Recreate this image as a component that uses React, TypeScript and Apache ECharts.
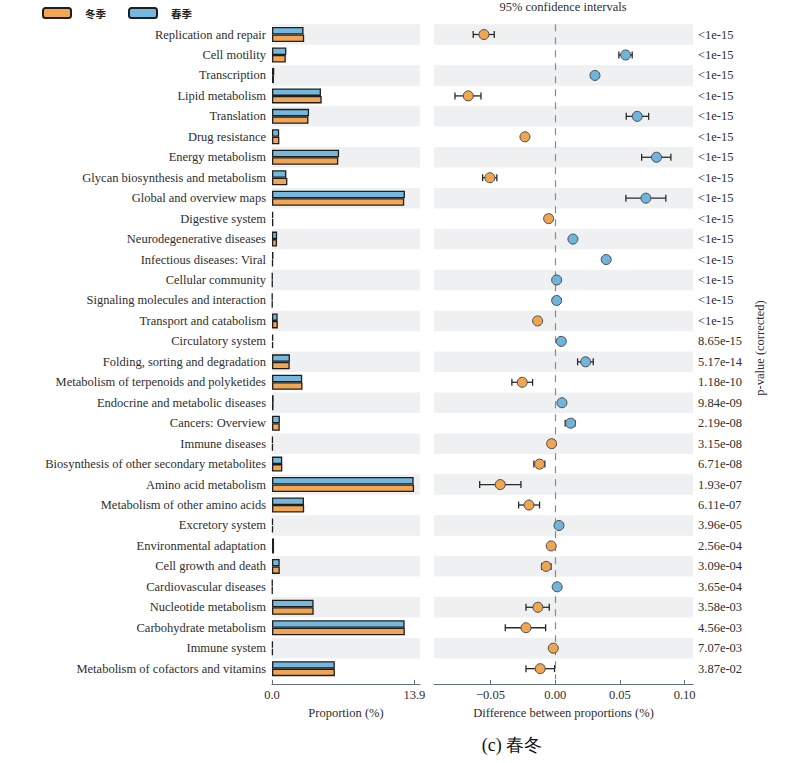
import React, { useEffect, useRef } from "react";
import * as echarts from "echarts";

const categories = [
  "Replication and repair",
  "Cell motility",
  "Transcription",
  "Lipid metabolism",
  "Translation",
  "Drug resistance",
  "Energy metabolism",
  "Glycan biosynthesis and metabolism",
  "Global and overview maps",
  "Digestive system",
  "Neurodegenerative diseases",
  "Infectious diseases: Viral",
  "Cellular community",
  "Signaling molecules and interaction",
  "Transport and catabolism",
  "Circulatory system",
  "Folding, sorting and degradation",
  "Metabolism of terpenoids and polyketides",
  "Endocrine and metabolic diseases",
  "Cancers: Overview",
  "Immune diseases",
  "Biosynthesis of other secondary metabolites",
  "Amino acid metabolism",
  "Metabolism of other amino acids",
  "Excretory system",
  "Environmental adaptation",
  "Cell growth and death",
  "Cardiovascular diseases",
  "Nucleotide metabolism",
  "Carbohydrate metabolism",
  "Immune system",
  "Metabolism of cofactors and vitamins",
];

// proportions (%)
const springValues = [
  3.08, 1.4, 0.22, 4.78, 3.62, 0.7, 6.55, 1.4, 12.98, 0.12, 0.5, 0.14, 0.05, 0.04, 0.55, 0.12,
  1.75, 2.95, 0.16, 0.77, 0.09, 1.0, 13.83, 3.12, 0.1, 0.2, 0.75, 0.05, 4.06, 12.95, 0.08, 6.13,
];
const winterValues = [
  3.14, 1.35, 0.19, 4.85, 3.56, 0.72, 6.47, 1.5, 12.91, 0.13, 0.49, 0.1, 0.05, 0.04, 0.57, 0.11,
  1.73, 2.98, 0.15, 0.76, 0.09, 1.01, 13.87, 3.14, 0.1, 0.2, 0.76, 0.05, 4.07, 12.97, 0.08, 6.14,
];

// difference between proportions (%) with 95% CI
const diffValues = [
  -0.0551, 0.0544, 0.0307, -0.0672, 0.0634, -0.0234, 0.0783, -0.0505, 0.0701, -0.0051, 0.0137,
  0.0394, 0.0011, 0.0011, -0.0136, 0.0047, 0.0235, -0.0255, 0.0052, 0.0119, -0.0028, -0.0121,
  -0.0425, -0.0203, 0.0029, -0.0031, -0.007, 0.0015, -0.0134, -0.0226, -0.0015, -0.0116,
];
const ciLow = [
  -0.0634, 0.0492, 0.0295, -0.0775, 0.0549, -0.0255, 0.0668, -0.0561, 0.0546, -0.0058, 0.0122,
  0.0388, 0.0009, 0.0009, -0.0152, 0.0042, 0.0173, -0.0335, 0.0047, 0.0077, -0.0033, -0.0165,
  -0.0584, -0.0283, 0.0026, -0.0035, -0.0105, 0.0013, -0.0226, -0.0386, -0.0018, -0.0226,
];
const ciHigh = [
  -0.0471, 0.0595, 0.0319, -0.0574, 0.0722, -0.0213, 0.0894, -0.0451, 0.0855, -0.0044, 0.0152,
  0.04, 0.0013, 0.0013, -0.012, 0.0052, 0.0294, -0.0175, 0.0057, 0.0152, -0.0023, -0.008,
  -0.0265, -0.0121, 0.0032, -0.0027, -0.0033, 0.0017, -0.0046, -0.0074, -0.0012, -0.0005,
];

const pValues = [
  "<1e-15", "<1e-15", "<1e-15", "<1e-15", "<1e-15", "<1e-15", "<1e-15", "<1e-15", "<1e-15",
  "<1e-15", "<1e-15", "<1e-15", "<1e-15", "<1e-15", "<1e-15", "8.65e-15", "5.17e-14",
  "1.18e-10", "9.84e-09", "2.19e-08", "3.15e-08", "6.71e-08", "1.93e-07", "6.11e-07",
  "3.96e-05", "2.56e-04", "3.09e-04", "3.65e-04", "3.58e-03", "4.56e-03", "7.07e-03", "3.87e-02",
];

const proportionTicks = [0, 13.9];
const diffTicks = [-0.05, 0, 0.05, 0.1];

const BLUE = "#74b8dd";
const ORANGE = "#f2a654";
const SERIF = "Liberation Serif";
const TEXT = "#2e2e2e";
const AXIS = "#5f6f7c";
const STRIPE = "#eef0f1";

export default function App() {
  const ref = useRef<HTMLDivElement>(null);

  useEffect(() => {
    document.body.style.margin = "0";
    if (!ref.current) return;
    const chart = echarts.init(ref.current, null, { renderer: "svg" });

    const top = 24.3;
    const bottom = 84.1;

    const option: any = {
      animation: false,
      backgroundColor: "#ffffff",
      legend: {
        data: ["冬季", "春季"],
        left: 42,
        top: 7,
        padding: 0,
        itemWidth: 28,
        itemHeight: 10,
        itemGap: 22,
        selectedMode: false,
        textStyle: {
          fontFamily: "Noto Sans CJK SC",
          fontWeight: "bold",
          fontSize: 10.5,
          color: "#222",
          padding: [0, 0, 0, 9],
        },
      },
      grid: [
        { left: 272, right: 379, top, bottom },
        { left: 434, right: 106, top, bottom },
      ],
      xAxis: [
        {
          type: "value",
          gridIndex: 0,
          min: 0,
          max: 14.45,
          offset: 5,
          splitLine: { show: false },
          axisLine: { show: true, lineStyle: { color: AXIS, width: 1.2 } },
          axisTick: { show: true, inside: true, length: 4, customValues: proportionTicks, lineStyle: { color: AXIS } },
          axisLabel: {
            customValues: proportionTicks,
            formatter: (v: number) => v.toFixed(1),
            fontFamily: SERIF,
            fontSize: 12.5,
            color: TEXT,
            margin: 5,
          },
          name: "Proportion (%)",
          nameLocation: "middle",
          nameGap: 22,
          nameTextStyle: { fontFamily: SERIF, fontSize: 12.5, color: TEXT },
        },
        {
          type: "value",
          gridIndex: 1,
          min: -0.0937,
          max: 0.1065,
          offset: 5,
          splitLine: { show: false },
          axisLine: { show: true, lineStyle: { color: AXIS, width: 1.2 } },
          axisTick: { show: true, inside: true, length: 4, customValues: diffTicks, lineStyle: { color: AXIS } },
          axisLabel: {
            customValues: diffTicks,
            formatter: (v: number) => (v < 0 ? "\u2212" + Math.abs(v).toFixed(2) : v.toFixed(2)),
            fontFamily: SERIF,
            fontSize: 12.5,
            color: TEXT,
            margin: 5,
          },
          name: "Difference between proportions (%)",
          nameLocation: "middle",
          nameGap: 22,
          nameTextStyle: { fontFamily: SERIF, fontSize: 12.5, color: TEXT },
        },
      ],
      yAxis: [
        {
          type: "category",
          gridIndex: 0,
          data: categories,
          inverse: true,
          axisLine: { show: false },
          axisTick: { show: false },
          axisLabel: { fontFamily: SERIF, fontSize: 12.5, color: TEXT, margin: 6 },
          splitArea: { show: true, areaStyle: { color: [STRIPE, "rgba(255,255,255,0)"] } },
        },
        {
          type: "category",
          gridIndex: 1,
          data: categories,
          inverse: true,
          position: "right",
          axisLine: { show: false },
          axisTick: { show: false },
          axisLabel: {
            formatter: (_v: string, i: number) => pValues[i],
            fontFamily: SERIF,
            fontSize: 12.5,
            color: TEXT,
            margin: 5,
            align: "left",
          },
          splitArea: { show: true, areaStyle: { color: [STRIPE, "rgba(255,255,255,0)"] } },
        },
      ],
      series: [
        {
          name: "春季",
          type: "bar",
          xAxisIndex: 0,
          yAxisIndex: 0,
          data: springValues,
          barWidth: 7.5,
          barGap: "0%",
          itemStyle: { color: BLUE, borderColor: "#1e1e1e", borderWidth: 1.3 },
        },
        {
          name: "冬季",
          type: "bar",
          xAxisIndex: 0,
          yAxisIndex: 0,
          data: winterValues,
          barWidth: 7.5,
          barGap: "0%",
          itemStyle: { color: ORANGE, borderColor: "#1e1e1e", borderWidth: 1.3 },
        },
        {
          type: "custom",
          xAxisIndex: 1,
          yAxisIndex: 1,
          z: 3,
          data: categories.map((_c, i) => [ciLow[i], ciHigh[i], i]),
          encode: { x: [0, 1], y: 2 },
          renderItem: (_params: any, api: any) => {
            const idx = api.value(2);
            const p1 = api.coord([api.value(0), idx]);
            const p2 = api.coord([api.value(1), idx]);
            const h = 3.5;
            const style = { stroke: "#2a2a2a", lineWidth: 1.3 };
            return {
              type: "group",
              children: [
                { type: "line", shape: { x1: p1[0], y1: p1[1], x2: p2[0], y2: p2[1] }, style },
                { type: "line", shape: { x1: p1[0], y1: p1[1] - h, x2: p1[0], y2: p1[1] + h }, style },
                { type: "line", shape: { x1: p2[0], y1: p2[1] - h, x2: p2[0], y2: p2[1] + h }, style },
              ],
            };
          },
        },
        {
          type: "scatter",
          xAxisIndex: 1,
          yAxisIndex: 1,
          z: 4,
          symbolSize: 10,
          data: diffValues.map((d, i) => ({
            value: [d, i],
            itemStyle: {
              color: d >= 0 ? "#6fb4db" : "#eea650",
              borderColor: "#4a4a4a",
              borderWidth: 1,
              opacity: 1,
            },
          })),
          markLine: {
            silent: true,
            z: 1,
            symbol: "none",
            label: { show: false },
            lineStyle: { type: [7, 6], color: "#8a8a8a", width: 1.2 },
            data: [{ xAxis: 0 }],
          },
        },
      ],
      graphic: [
        {
          type: "text",
          x: 563,
          y: 7,
          style: {
            text: "95% confidence intervals",
            fontFamily: SERIF,
            fontSize: 12.5,
            fill: TEXT,
            align: "center",
            verticalAlign: "middle",
          },
        },
        {
          type: "text",
          x: 760,
          y: 348,
          rotation: Math.PI / 2,
          style: {
            text: "p-value (corrected)",
            fontFamily: SERIF,
            fontSize: 12.5,
            fill: TEXT,
            align: "center",
            verticalAlign: "middle",
          },
        },
        {
          type: "text",
          x: 512,
          y: 745,
          style: {
            text: "(c) 春冬",
            fontFamily: SERIF,
            fontSize: 18,
            fill: "#111",
            align: "center",
            verticalAlign: "middle",
          },
        },
      ],
    };

    chart.setOption(option);
    return () => chart.dispose();
  }, []);

  return <div ref={ref} style={{ width: 799, height: 763 }} />;
}
